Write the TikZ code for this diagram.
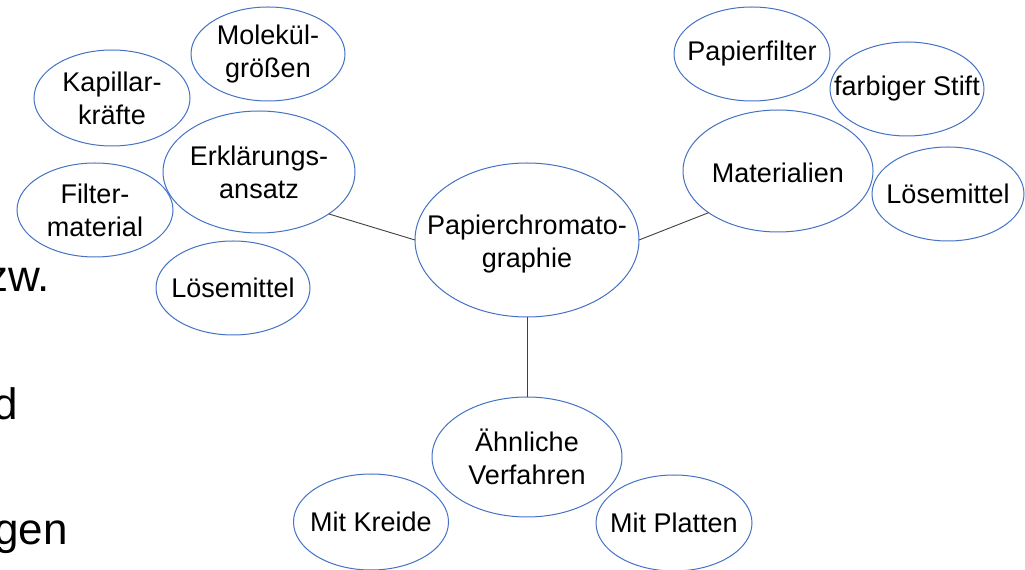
\documentclass[tikz,border=0pt]{standalone}
\usepackage{fontspec}
\setmainfont{Liberation Sans}
\usetikzlibrary{shapes.geometric}
\definecolor{ellblue}{RGB}{68,114,196}
\definecolor{conn}{RGB}{64,64,64}
\begin{document}
\begin{tikzpicture}[x=1pt,y=1pt,
  bub/.style={ellipse,draw=ellblue,line width=1pt,inner sep=0pt,outer sep=0pt},
  txt/.style={inner sep=0pt,align=center,font=\fontsize{27}{33}\selectfont},
  big/.style={anchor=base west,inner sep=0pt,font=\fontsize{44}{50}\selectfont},
  link/.style={draw=conn,line width=0.9pt}]
\useasboundingbox (0,0) rectangle (1025,570);
\clip (0,0) rectangle (1025,570);
\fill[white] (0,0) rectangle (1025,570);
% fragments of slide text on the left
\node[big] (fz) at (-14,278) {zw.};
\node[big] (fd) at (-7,150) {d};
\node[big] (fg) at (-6,25) {gen};
% centre
\node[bub,minimum width=224,minimum height=154] (pc) at (527,330) {};
\node[txt,yshift=-4] (pct) at (pc) {Papierchromato-\\graphie};
% left branch
\node[bub,minimum width=192,minimum height=122] (erk) at (259,398) {};
\node[txt] (erkt) at (erk) {Erklärungs-\\ansatz};
\node[bub,minimum width=154,minimum height=94] (mol) at (268,516) {};
\node[txt] (molt) at (mol) {Molekül-\\größen};
\node[bub,minimum width=156,minimum height=96] (kap) at (112,472) {};
\node[txt] (kapt) at (kap) {Kapillar-\\kräfte};
\node[bub,minimum width=156,minimum height=94] (fil) at (95,360) {};
\node[txt] (filt) at (fil) {Filter-\\material};
\node[bub,minimum width=154,minimum height=94] (loel) at (233,282) {};
\node[txt] (loelt) at (loel) {Lösemittel};
% right branch
\node[bub,minimum width=190,minimum height=122] (mat) at (778,399) {};
\node[txt,yshift=-2] (matt) at (mat) {Materialien};
\node[bub,minimum width=156,minimum height=94] (pap) at (752,516) {};
\node[txt] (papt) at (pap) {Papierfilter};
\node[bub,minimum width=154,minimum height=94] (sti) at (907,481) {};
\node[txt] (stit) at (sti) {farbiger Stift};
\node[bub,minimum width=152,minimum height=94] (loer) at (948,376) {};
\node[txt] (loert) at (loer) {Lösemittel};
% bottom branch
\node[bub,minimum width=190,minimum height=120] (ahn) at (527,113) {};
\node[txt] (ahnt) at (ahn) {Ähnliche\\Verfahren};
\node[bub,minimum width=155,minimum height=96] (kre) at (371,48) {};
\node[txt] (kret) at (kre) {Mit Kreide};
\node[bub,minimum width=156,minimum height=96] (pla) at (674,47) {};
\node[txt] (plat) at (pla) {Mit Platten};
% connectors
\draw[link] (erk.-31.6) -- (pc.west);
\draw[link] (mat.211.7) -- (pc.east);
\draw[link] (pc.south) -- (ahn.north);
\end{tikzpicture}
\end{document}
